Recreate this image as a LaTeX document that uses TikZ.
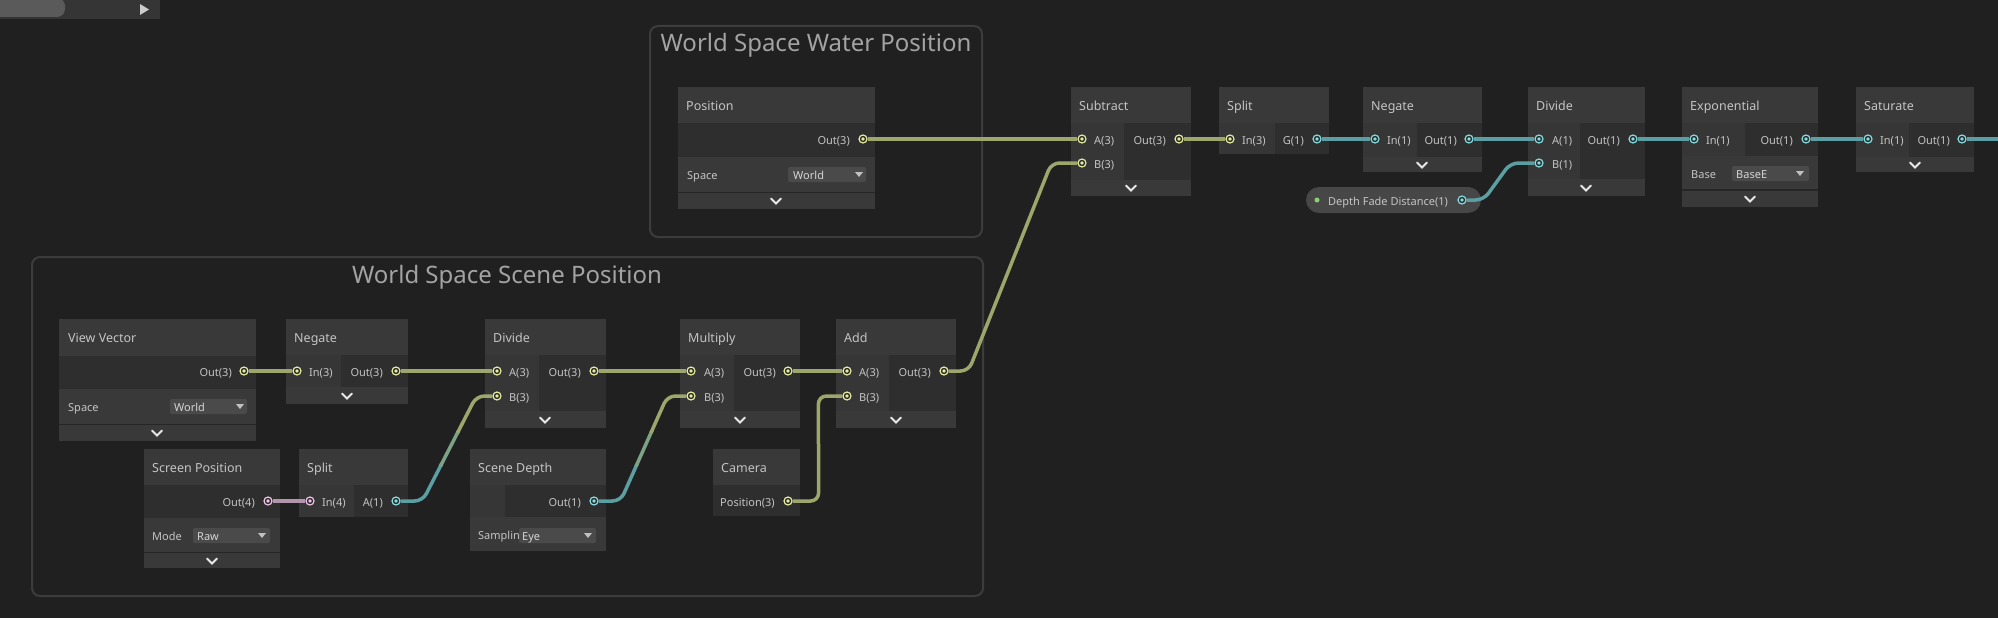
\documentclass[tikz,border=0pt]{standalone}
\usepackage{fontspec}
\setmainfont{Noto Sans}
\usepackage{tikz}
\usetikzlibrary{calc}

\definecolor{bgc}{HTML}{202020}
\definecolor{tbc}{HTML}{353535}
\definecolor{sldc}{HTML}{5A5A5A}
\definecolor{tric}{HTML}{CCCCCC}
\definecolor{grpc}{HTML}{3C3C3C}
\definecolor{gtc}{HTML}{A3A3A3}
\definecolor{hdc}{HTML}{393939}
\definecolor{bdc}{HTML}{2E2E2E}
\definecolor{clc}{HTML}{363636}
\definecolor{sepc}{HTML}{262626}
\definecolor{txc}{HTML}{C4C4C4}
\definecolor{ddc}{HTML}{4A4A4A}
\definecolor{ddtx}{HTML}{D4D4D4}
\definecolor{ddtc}{HTML}{C0C0C0}
\definecolor{chc}{HTML}{E8E8E8}
\definecolor{pdk}{HTML}{2B2B2B}
\definecolor{yelp}{HTML}{E5EC9C}
\definecolor{cyp}{HTML}{84DDE1}
\definecolor{pkp}{HTML}{EFC3E8}
\definecolor{yelw}{HTML}{9EA76B}
\definecolor{cyw}{HTML}{5B9FA3}
\definecolor{pkw}{HTML}{B294AC}
\definecolor{pillc}{HTML}{474747}
\definecolor{grn}{HTML}{8DD06D}

\begin{document}
\begin{tikzpicture}[x=1pt, y=-1pt,
    hd/.style={fill=hdc},
    bd/.style={fill=bdc},
    cl/.style={fill=clc},
    sepl/.style={draw=sepc, line width=1.5},
    grp/.style={draw=grpc, line width=2, rounded corners=8},
    gttl/.style={anchor=base, text=gtc, font=\fontsize{24}{28}\selectfont, inner sep=0},
    ttl/.style={anchor=west, text=txc, font=\fontsize{11}{13}\selectfont, inner sep=0, text height=8, text depth=0},
    hdt/.style={ttl, font=\fontsize{12.5}{15}\selectfont, text height=9},
    rlbl/.style={ttl, anchor=east},
    ddl/.style={ttl, text=ddtx},
    dd/.style={fill=ddc, rounded corners=2},
    ddt/.style={fill=ddtc},
    chv/.style={draw=chc, line width=1.8, line cap=round},
    port/.style={circle, minimum size=8, inner sep=0, line width=1.2, fill=pdk},
    p3/.style={port, draw=yelp, path picture={\fill[yelp] (path picture bounding box.center) circle (1.8);}},
    p1/.style={port, draw=cyp, path picture={\fill[cyp] (path picture bounding box.center) circle (1.8);}},
    p4/.style={port, draw=pkp, path picture={\fill[pkp] (path picture bounding box.center) circle (1.8);}},
    w3/.style={draw=yelw, line width=3.5, rounded corners=8},
    w1/.style={draw=cyw, line width=3.5, rounded corners=8},
    w4/.style={draw=pkw, line width=3.5},
    wm/.style={draw=yelw!50!cyw, line width=3.5}]
    \useasboundingbox (0,0) rectangle (1998,618);
    \fill[bgc] (0,0) rectangle (1998,618);
    % toolbar
    \fill[tbc] (0,0) rectangle (160,19);
    \fill[sldc, rounded corners=8] (-10,-2) rectangle (65,17);
    \fill[tric] (140,4) -- (149,9.5) -- (140,15) -- cycle;
    % groups
    \draw[grp] (650,26) rectangle (982,237);
    \node[gttl] (wsw) at (816,52) {World Space Water Position};
    \draw[grp] (32,257) rectangle (983,596);
    \node[gttl] (wss) at (507,283) {World Space Scene Position};

    % Position
    \fill[hd] (678,87) rectangle (875,209);
    \fill[bd] (678,123) rectangle (875,157);
    \draw[sepl] (678,192.5) -- (875,192.5);
    \node[hdt] (posh) at (686,106) {Position};
    \node[rlbl] (posol) at (850,140) {Out(3)};
    \node[p3] (posout) at (863,139) {};
    \node[ttl] (possp) at (687,175) {Space};
    \fill[dd] (788,167) rectangle (866,182);
    \node[ddl] (posdd) at (793,175) {World};
    \fill[ddt] (855,172) -- (863,172) -- (859,177) -- cycle;
    \draw[chv] (771,198.5) -- (776,203.5) -- (781,198.5);

    % View Vector
    \fill[hd] (59,319) rectangle (256,441);
    \fill[bd] (59,356) rectangle (256,389);
    \draw[sepl] (59,424.5) -- (256,424.5);
    \node[hdt] (vvh) at (68,338) {View Vector};
    \node[rlbl] (vvol) at (232,372) {Out(3)};
    \node[p3] (vvout) at (244,371) {};
    \node[ttl] (vvsp) at (68,407) {Space};
    \fill[dd] (170,399) rectangle (247,414);
    \node[ddl] (vvdd) at (174,407) {World};
    \fill[ddt] (236,404) -- (244,404) -- (240,409) -- cycle;
    \draw[chv] (152,430.5) -- (157,435.5) -- (162,430.5);

    % Negate (scene)
    \fill[hd] (286,319) rectangle (408,404);
    \fill[bd] (286,355) rectangle (408,387);
    \fill[cl] (286,355) rectangle (341,387);
    \node[hdt] (ngLh) at (294,338) {Negate};
    \node[p3] (ngLin) at (297,371) {};
    \node[ttl] (ngLil) at (309,372) {In(3)};
    \node[rlbl] (ngLol) at (383,372) {Out(3)};
    \node[p3] (ngLout) at (396,371) {};
    \draw[chv] (342,393.5) -- (347,398.5) -- (352,393.5);

    % Divide (scene)
    \fill[hd] (485,319) rectangle (606,428);
    \fill[bd] (485,355) rectangle (606,411);
    \fill[cl] (485,355) rectangle (539,411);
    \node[hdt] (dvLh) at (493,338) {Divide};
    \node[p3] (dvLa) at (497,371) {};
    \node[ttl] (dvLal) at (509,372) {A(3)};
    \node[p3] (dvLb) at (497,396) {};
    \node[ttl] (dvLbl) at (509,397) {B(3)};
    \node[rlbl] (dvLol) at (581,372) {Out(3)};
    \node[p3] (dvLout) at (594,371) {};
    \draw[chv] (540,417.5) -- (545,422.5) -- (550,417.5);

    % Multiply
    \fill[hd] (680,319) rectangle (800,428);
    \fill[bd] (680,355) rectangle (800,411);
    \fill[cl] (680,355) rectangle (734,411);
    \node[hdt] (mulh) at (688,338) {Multiply};
    \node[p3] (mulA) at (691,371) {};
    \node[ttl] (mulal) at (704,372) {A(3)};
    \node[p3] (mulB) at (691,396) {};
    \node[ttl] (mulbl) at (704,397) {B(3)};
    \node[rlbl] (mulol) at (776,372) {Out(3)};
    \node[p3] (mulout) at (788,371) {};
    \draw[chv] (735,417.5) -- (740,422.5) -- (745,417.5);

    % Add
    \fill[hd] (836,319) rectangle (956,428);
    \fill[bd] (836,355) rectangle (956,411);
    \fill[cl] (836,355) rectangle (889,411);
    \node[hdt] (addh) at (844,338) {Add};
    \node[p3] (addA) at (847,371) {};
    \node[ttl] (addal) at (859,372) {A(3)};
    \node[p3] (addB) at (847,396) {};
    \node[ttl] (addbl) at (859,397) {B(3)};
    \node[rlbl] (addol) at (931,372) {Out(3)};
    \node[p3] (addout) at (944,371) {};
    \draw[chv] (891,417.5) -- (896,422.5) -- (901,417.5);

    % Screen Position
    \fill[hd] (144,449) rectangle (280,568);
    \fill[bd] (144,485) rectangle (280,518);
    \draw[sepl] (144,552.5) -- (280,552.5);
    \node[hdt] (sph) at (152,468) {Screen Position};
    \node[rlbl] (spol) at (255,502) {Out(4)};
    \node[p4] (spout) at (268,501) {};
    \node[ttl] (spmd) at (152,536) {Mode};
    \fill[dd] (193,528) rectangle (270,543);
    \node[ddl] (spdd) at (197,536) {Raw};
    \fill[ddt] (258,533) -- (266,533) -- (262,538) -- cycle;
    \draw[chv] (207,558.5) -- (212,563.5) -- (217,558.5);

    % Split (scene)
    \fill[hd] (299,449) rectangle (408,517);
    \fill[bd] (299,485) rectangle (408,517);
    \fill[cl] (299,485) rectangle (354,517);
    \node[hdt] (slh) at (307,468) {Split};
    \node[p4] (slin) at (310,501) {};
    \node[ttl] (slil) at (322,502) {In(4)};
    \node[rlbl] (slal) at (383,502) {A(1)};
    \node[p1] (slA) at (396,501) {};

    % Scene Depth
    \fill[hd] (470,449) rectangle (606,551);
    \fill[bd] (505,485) rectangle (606,517);
    \fill[cl] (470,485) rectangle (505,517);
    \node[hdt] (sdh) at (478,468) {Scene Depth};
    \node[rlbl] (sdol) at (581,502) {Out(1)};
    \node[p1] (sdout) at (594,501) {};
    \node[ttl] (sdsm) at (478,535) {Samplin};
    \fill[dd] (519,528) rectangle (596,543);
    \node[ddl] (sddd) at (522,536) {Eye};
    \fill[ddt] (584,533) -- (592,533) -- (588,538) -- cycle;

    % Camera
    \fill[hd] (713,449) rectangle (800,516);
    \fill[bd] (713,485) rectangle (800,516);
    \node[hdt] (camh) at (721,468) {Camera};
    \node[ttl] (campl) at (720,502) {Position(3)};
    \node[p3] (camout) at (788,501) {};

    % Subtract
    \fill[hd] (1071,87) rectangle (1191,196);
    \fill[bd] (1071,123) rectangle (1191,180);
    \fill[cl] (1071,123) rectangle (1124,180);
    \node[hdt] (subh) at (1079,106) {Subtract};
    \node[p3] (subA) at (1082,139) {};
    \node[ttl] (subal) at (1094,140) {A(3)};
    \node[p3] (subB) at (1082,163) {};
    \node[ttl] (subbl) at (1094,164) {B(3)};
    \node[rlbl] (subol) at (1166,140) {Out(3)};
    \node[p3] (subout) at (1179,139) {};
    \draw[chv] (1126,185.5) -- (1131,190.5) -- (1136,185.5);

    % Split (top)
    \fill[hd] (1219,87) rectangle (1329,154);
    \fill[bd] (1219,123) rectangle (1329,154);
    \fill[cl] (1219,123) rectangle (1275,154);
    \node[hdt] (sth) at (1227,106) {Split};
    \node[p3] (stin) at (1230,139) {};
    \node[ttl] (stil) at (1242,140) {In(3)};
    \node[rlbl] (stgl) at (1304,140) {G(1)};
    \node[p1] (stg) at (1317,139) {};

    % Negate (top)
    \fill[hd] (1363,87) rectangle (1482,172);
    \fill[bd] (1363,123) rectangle (1482,157);
    \fill[cl] (1363,123) rectangle (1417,157);
    \node[hdt] (ngTh) at (1371,106) {Negate};
    \node[p1] (ngTin) at (1375,139) {};
    \node[ttl] (ngTil) at (1387,140) {In(1)};
    \node[rlbl] (ngTol) at (1457,140) {Out(1)};
    \node[p1] (ngTout) at (1469,139) {};
    \draw[chv] (1417,162.5) -- (1422,167.5) -- (1427,162.5);

    % Depth Fade Distance property
    \fill[pillc, rounded corners=13] (1306,187) rectangle (1481,213);
    \node[circle, fill=grn, minimum size=5, inner sep=0] (dfdin) at (1317,200) {};
    \node[ttl] (dfd) at (1328,201) {Depth Fade Distance(1)};
    \node[p1] (dfdout) at (1462,200) {};

    % Divide (top)
    \fill[hd] (1528,87) rectangle (1645,196);
    \fill[bd] (1528,123) rectangle (1645,179);
    \fill[cl] (1528,123) rectangle (1580,179);
    \node[hdt] (dvTh) at (1536,106) {Divide};
    \node[p1] (dvTa) at (1539,139) {};
    \node[ttl] (dvTal) at (1552,140) {A(1)};
    \node[p1] (dvTb) at (1539,163) {};
    \node[ttl] (dvTbl) at (1552,164) {B(1)};
    \node[rlbl] (dvTol) at (1620,140) {Out(1)};
    \node[p1] (dvTout) at (1633,139) {};
    \draw[chv] (1581,185.5) -- (1586,190.5) -- (1591,185.5);

    % Exponential
    \fill[hd] (1682,87) rectangle (1818,207);
    \fill[bd] (1682,123) rectangle (1818,156);
    \fill[cl] (1682,123) rectangle (1745,156);
    \draw[sepl] (1682,190) -- (1818,190);
    \node[hdt] (exph) at (1690,106) {Exponential};
    \node[p1] (expin) at (1694,139) {};
    \node[ttl] (expil) at (1706,140) {In(1)};
    \node[rlbl] (expol) at (1793,140) {Out(1)};
    \node[p1] (expout) at (1806,139) {};
    \node[ttl] (expbs) at (1691,174) {Base};
    \fill[dd] (1732,166) rectangle (1809,181);
    \node[ddl] (expdd) at (1736,174) {BaseE};
    \fill[ddt] (1796,171) -- (1804,171) -- (1800,176) -- cycle;
    \draw[chv] (1745,196.5) -- (1750,201.5) -- (1755,196.5);

    % Saturate
    \fill[hd] (1856,87) rectangle (1974,172);
    \fill[bd] (1856,123) rectangle (1974,157);
    \fill[cl] (1856,123) rectangle (1909,157);
    \node[hdt] (sath) at (1864,106) {Saturate};
    \node[p1] (satin) at (1868,139) {};
    \node[ttl] (satil) at (1880,140) {In(1)};
    \node[rlbl] (satol) at (1950,140) {Out(1)};
    \node[p1] (satout) at (1962,139) {};
    \draw[chv] (1910,162.5) -- (1915,167.5) -- (1920,162.5);
    \coordinate (offright) at (1998,139);

    % wires, top row
    \draw[w3] (posout) -- (subA);
    \draw[w3] (subout) -- (stin);
    \draw[w1] (stg) -- (ngTin);
    \draw[w1] (ngTout) -- (dvTa);
    \draw[w1] (dfdout.east) -- ++(17,0) -- ([xshift=-24]dvTb.west) -- (dvTb.west);
    \draw[w1] (dvTout) -- (expin);
    \draw[w1] (expout) -- (satin);
    \draw[w1] (satout) -- (offright);
    % wires, scene group
    \draw[w3] (vvout) -- (ngLin);
    \draw[w3] (ngLout) -- (dvLa);
    \draw[w4] (spout) -- (slin);
    \draw[w3] (dvLout) -- (mulA);
    \draw[w3] (mulout) -- (addA);
    \draw[w3] (camout.east) -- ++(26,0) -- ([xshift=-24]addB.west) -- (addB.west);
    \draw[w3] (addout.east) -- ++(20,0) -- ([xshift=-26]subB.west) -- (subB.west);
    % float into vector: colour blends along the wire
    \coordinate (ga) at ([xshift=22]slA.east);
    \coordinate (gb) at ([xshift=-16]dvLb.west);
    \draw[w1] (slA.east) -- (ga) -- ($(ga)!0.35!(gb)$);
    \draw[wm] ($(ga)!0.33!(gb)$) -- ($(ga)!0.67!(gb)$);
    \draw[w3] ($(ga)!0.65!(gb)$) -- (gb) -- (dvLb.west);
    \coordinate (gc) at ([xshift=22]sdout.east);
    \coordinate (gd) at ([xshift=-19]mulB.west);
    \draw[w1] (sdout.east) -- (gc) -- ($(gc)!0.35!(gd)$);
    \draw[wm] ($(gc)!0.33!(gd)$) -- ($(gc)!0.67!(gd)$);
    \draw[w3] ($(gc)!0.65!(gd)$) -- (gd) -- (mulB.west);
\end{tikzpicture}
\end{document}
